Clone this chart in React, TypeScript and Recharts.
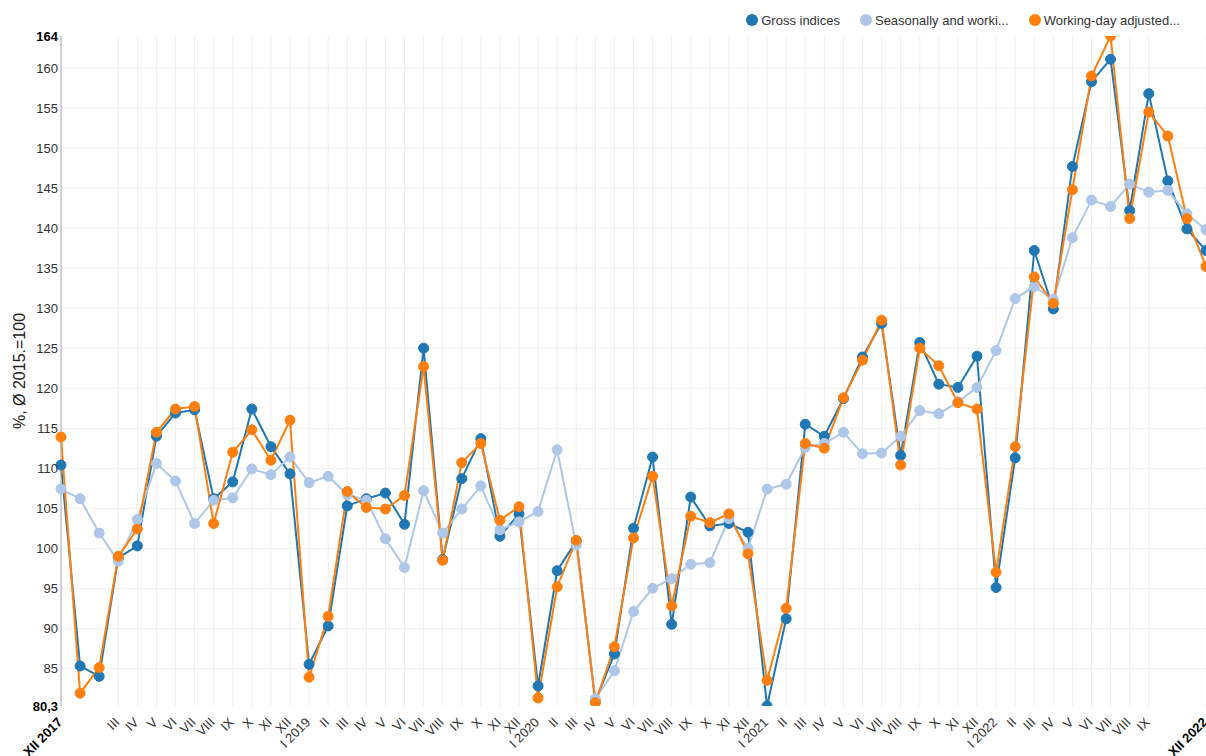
import React from "react";
import { LineChart, Line, XAxis, YAxis, CartesianGrid, Legend } from "recharts";

const romanMonths = ["I", "II", "III", "IV", "V", "VI", "VII", "VIII", "IX", "X", "XI", "XII"];
const years = [2018, 2019, 2020, 2021, 2022];
const periods = ["XII 2017", ...years.flatMap((y) => romanMonths.map((m) => `${m} ${y}`))];
const hiddenTicks = ["I 2018", "II 2018", "X 2022", "XI 2022"];

const grossIndices = [
  110.4, 85.3, 84.0, 98.8, 100.3, 114.0, 116.9, 117.3, 106.2, 108.3, 117.4, 112.7, 109.3,
  85.5, 90.3, 105.3, 106.2, 106.9, 103.0, 125.0, 98.6, 108.7, 113.7, 101.5, 104.3,
  82.8, 97.2, 100.9, 80.9, 86.8, 102.5, 111.4, 90.5, 106.4, 102.8, 103.1, 102.0,
  80.3, 91.2, 115.5, 114.0, 118.7, 123.9, 128.1, 111.6, 125.7, 120.5, 120.1, 124.0,
  95.1, 111.3, 137.2, 129.9, 147.7, 158.3, 161.1, 142.2, 156.8, 145.9, 139.9, 137.2,
];
const seasonalAdjusted = [
  107.4, 106.2, 101.9, 98.4, 103.6, 110.6, 108.4, 103.1, 106.0, 106.3, 109.9, 109.2, 111.4,
  108.2, 109.0, 106.7, 106.0, 101.2, 97.6, 107.2, 101.9, 104.9, 107.8, 102.3, 103.3,
  104.6, 112.3, 100.4, 81.2, 84.7, 92.1, 95.0, 96.2, 98.0, 98.2, 103.7, 100.0,
  107.4, 108.0, 112.6, 113.1, 114.5, 111.8, 111.9, 114.0, 117.2, 116.8, 118.3, 120.1,
  124.7, 131.2, 132.7, 131.1, 138.8, 143.5, 142.7, 145.5, 144.5, 144.7, 141.8, 139.8,
];
const workingDayAdjusted = [
  113.9, 81.9, 85.1, 99.0, 102.4, 114.5, 117.4, 117.7, 103.1, 112.0, 114.8, 111.0, 116.0,
  83.9, 91.5, 107.1, 105.1, 104.9, 106.6, 122.7, 98.5, 110.7, 113.1, 103.5, 105.2,
  81.3, 95.2, 101.0, 80.7, 87.7, 101.3, 109.0, 92.8, 104.0, 103.2, 104.3, 99.3,
  83.5, 92.5, 113.1, 112.5, 118.8, 123.5, 128.5, 110.4, 125.0, 122.8, 118.2, 117.4,
  97.0, 112.7, 133.9, 130.6, 144.8, 159.0, 164.0, 141.2, 154.5, 151.5, 141.2, 135.2,
];

const yMin = 80.3;
const yMax = 164;
const yTicks = [yMin, 85, 90, 95, 100, 105, 110, 115, 120, 125, 130, 135, 140, 145, 150, 155, 160, yMax];
const gridValues = yTicks.filter((v) => v !== yMin && v !== yMax);

const data = periods.map((period, i) => ({
  period,
  gross: grossIndices[i],
  seasonal: seasonalAdjusted[i],
  working: workingDayAdjusted[i],
}));

const xTicks = periods.filter((p) => !hiddenTicks.includes(p));

const XTick = (props: any) => {
  const { x, y, payload } = props;
  const p: string = payload.value;
  const isEnd = p === periods[0] || p === periods[periods.length - 1];
  const [month] = p.split(" ");
  const text = isEnd || month === "I" ? p : month;
  const ax = x + 2;
  const ay = y + 9;
  return (
    <text
      x={ax}
      y={ay}
      transform={`rotate(-45, ${ax}, ${ay})`}
      textAnchor="end"
      fontSize={13}
      fontWeight={isEnd ? "bold" : "normal"}
      fill={isEnd ? "#000" : "#333"}
    >
      {text}
    </text>
  );
};

const YTick = (props: any) => {
  const { x, y, payload } = props;
  const v: number = payload.value;
  const isEnd = v === yMin || v === yMax;
  return (
    <text
      x={x}
      y={y}
      dy="0.35em"
      textAnchor="end"
      fontSize={13}
      fontWeight={isEnd ? "bold" : "normal"}
      fill={isEnd ? "#000" : "#333"}
    >
      {String(v).replace(".", ",")}
    </text>
  );
};

const renderLegend = (props: any) => (
  <div
    style={{
      display: "flex",
      justifyContent: "flex-end",
      alignItems: "center",
      height: 32,
      paddingRight: 26,
      fontSize: 13,
      color: "#333",
    }}
  >
    {(props.payload || []).map((entry: any) => (
      <span key={entry.value} style={{ display: "inline-flex", alignItems: "center", marginLeft: 20 }}>
        <span
          style={{
            display: "inline-block",
            width: 12,
            height: 12,
            borderRadius: 6,
            background: entry.color,
            marginRight: 3,
          }}
        />
        {entry.value}
      </span>
    ))}
  </div>
);

export default function App() {
  return (
    <div
      style={{
        position: "absolute",
        left: 0,
        top: 0,
        width: 1206,
        height: 756,
        background: "#fff",
        fontFamily: "'Liberation Sans', Arial, sans-serif",
      }}
    >
      <LineChart width={1206} height={756} data={data} margin={{ top: 4, right: 0, bottom: 0, left: 0 }}>
        <CartesianGrid stroke="#efefef" horizontalValues={gridValues} />
        <XAxis
          dataKey="period"
          type="category"
          scale="point"
          ticks={xTicks}
          interval={0}
          tickLine={false}
          axisLine={false}
          height={50}
          tick={<XTick />}
        />
        <YAxis
          type="number"
          domain={[yMin, yMax]}
          ticks={yTicks}
          interval={0}
          allowDataOverflow
          width={61}
          tickLine={false}
          tickSize={0}
          tickMargin={3}
          axisLine={{ stroke: "#aaa" }}
          tick={<YTick />}
          label={{
            content: (p: any) => {
              const vb = p.viewBox || { x: 0, y: 36, height: 670 };
              const cx = vb.x + 25;
              const cy = vb.y + vb.height / 2;
              return (
                <text
                  x={cx}
                  y={cy}
                  transform={`rotate(-90, ${cx}, ${cy})`}
                  textAnchor="middle"
                  fontSize={16}
                  fill="#222"
                >
                  %, Ø 2015.=100
                </text>
              );
            },
          }}
        />
        <Legend verticalAlign="top" align="right" content={renderLegend} />
        <Line
          type="linear"
          dataKey="gross"
          name="Gross indices"
          stroke="#1f77b4"
          strokeWidth={2}
          dot={{ r: 5, fill: "#1f77b4", stroke: "#1f77b4", strokeWidth: 1 }}
          activeDot={false}
          isAnimationActive={false}
        />
        <Line
          type="linear"
          dataKey="seasonal"
          name="Seasonally and worki..."
          stroke="#aec7e8"
          strokeWidth={2}
          dot={{ r: 5, fill: "#aec7e8", stroke: "#aec7e8", strokeWidth: 1 }}
          activeDot={false}
          isAnimationActive={false}
        />
        <Line
          type="linear"
          dataKey="working"
          name="Working-day adjusted..."
          stroke="#ff7f0e"
          strokeWidth={2}
          dot={{ r: 5, fill: "#ff7f0e", stroke: "#ff7f0e", strokeWidth: 1 }}
          activeDot={false}
          isAnimationActive={false}
        />
      </LineChart>
    </div>
  );
}
